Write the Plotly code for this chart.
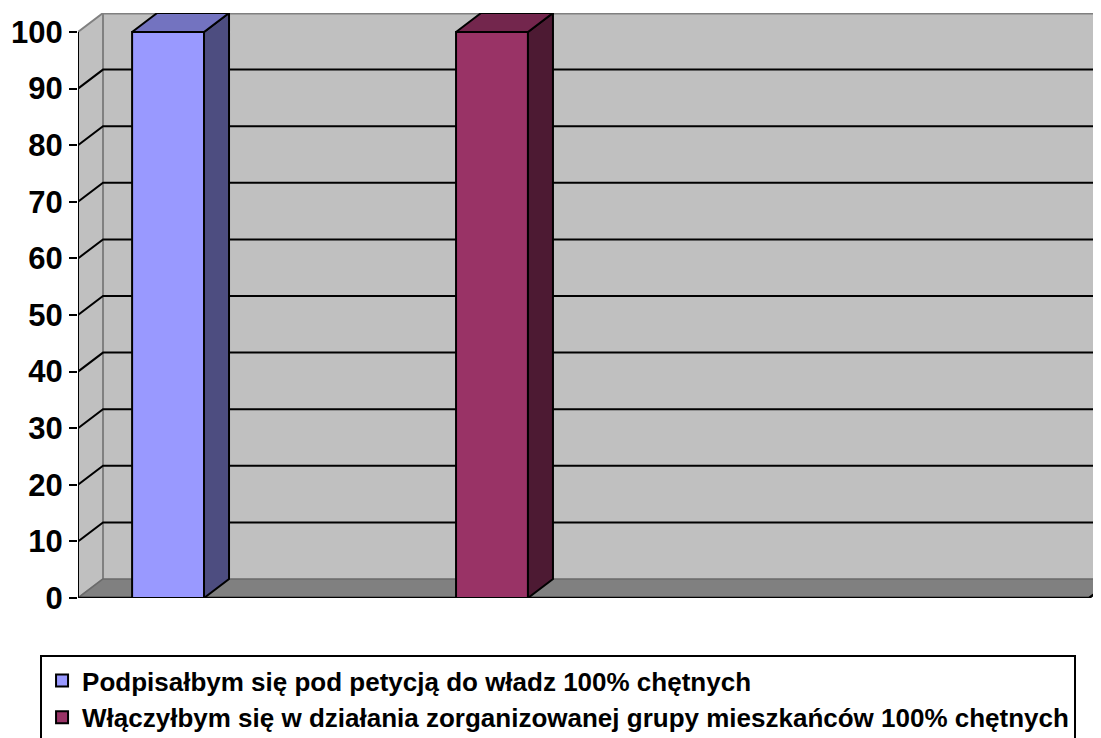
import plotly.graph_objects as go

# ---- data ----
series_names = [
    "Podpisałbym się pod petycją do władz 100% chętnych",
    "Włączyłbym się w działania zorganizowanej grupy mieszkańców 100% chętnych",
]
series_values = [100, 100]
series_positions = [0, 1]
front_colors = ["#9999FF", "#993366"]
side_colors = ["#4D4D80", "#4D1A33"]
top_colors = ["#7373C0", "#73264D"]
y_tick_values = list(range(0, 101, 10))

# ---- geometry (axis units) ----
X_MIN = -0.278
X_MAX = 2.88
FLOOR_END = 2.843
DX = 0.0772   # depth offset along x
DY = 3.357    # depth offset along y
BAR_W = 0.222
Y_TOP = 100
Y_RANGE_MAX = 103.36

fig = go.Figure()

for name, pos, val, fc, sc, tc in zip(series_names, series_positions, series_values,
                                       front_colors, side_colors, top_colors):
    fig.add_trace(go.Bar(
        x=[pos], y=[val], width=[BAR_W], name=name,
        marker=dict(color=fc, line=dict(color="black", width=2)),
        hoverinfo="skip",
    ))
    r = pos + BAR_W / 2
    l = pos - BAR_W / 2
    # side face
    fig.add_trace(go.Scatter(
        x=[r, r + DX, r + DX, r, r], y=[0, DY, val + DY, val, 0],
        mode="lines", fill="toself", fillcolor=sc,
        line=dict(color="black", width=2), showlegend=False, hoverinfo="skip",
    ))
    # top face
    fig.add_trace(go.Scatter(
        x=[l, r, r + DX, l + DX, l], y=[val, val, val + DY, val + DY, val],
        mode="lines", fill="toself", fillcolor=tc,
        line=dict(color="black", width=2), showlegend=False, hoverinfo="skip",
    ))

shapes = []
# back wall
shapes.append(dict(type="rect", xref="x", yref="y", layer="below",
                   x0=X_MIN + DX, x1=X_MAX + 1, y0=DY, y1=Y_TOP + DY,
                   fillcolor="#C0C0C0", line=dict(width=0)))
# back wall top edge
shapes.append(dict(type="line", xref="x", yref="y", layer="below",
                   x0=X_MIN + DX, x1=X_MAX + 1, y0=Y_TOP + DY, y1=Y_TOP + DY,
                   line=dict(color="#808080", width=3)))
# left wall
shapes.append(dict(type="path", xref="x", yref="y", layer="below",
                   path=f"M {X_MIN},0 L {X_MIN},{Y_TOP} L {X_MIN+DX},{Y_TOP+DY} L {X_MIN+DX},{DY} Z",
                   fillcolor="#C0C0C0", line=dict(color="#808080", width=2)))
# floor
shapes.append(dict(type="path", xref="x", yref="y", layer="below",
                   path=f"M {X_MIN},0 L {FLOOR_END},0 L {FLOOR_END+DX},{DY} L {X_MIN+DX},{DY} Z",
                   fillcolor="#808080", line=dict(color="#6A6A6A", width=1.5)))
# gridlines on left and back walls
for v in y_tick_values[1:-1]:
    shapes.append(dict(type="path", xref="x", yref="y", layer="below",
                       path=f"M {X_MIN},{v} L {X_MIN+DX},{v+DY} L {X_MAX+1},{v+DY}",
                       line=dict(color="black", width=2)))
# floor front edge and right edge
shapes.append(dict(type="path", xref="x", yref="y", layer="below",
                   path=f"M {X_MIN},0 L {FLOOR_END},0 L {FLOOR_END+DX},{DY}",
                   line=dict(color="black", width=2.5)))
# value axis line
shapes.append(dict(type="line", xref="x", yref="y", layer="above",
                   x0=X_MIN, x1=X_MIN, y0=0, y1=Y_TOP,
                   line=dict(color="black", width=2)))

fig.update_layout(
    width=1093, height=730,
    margin=dict(l=70, r=0, t=5, b=140, autoexpand=False),
    paper_bgcolor="white", plot_bgcolor="white",
    barmode="overlay",
    shapes=shapes,
    showlegend=True,
    legend=dict(
        x=-0.0371, xanchor="left", y=-0.0974, yanchor="top",
        bordercolor="black", borderwidth=2, bgcolor="white",
        font=dict(family="Liberation Sans, Arial, sans-serif", size=26, color="black", weight="bold"),
        tracegroupgap=0, itemwidth=30,
    ),
    xaxis=dict(range=[X_MIN, X_MAX], showgrid=False, zeroline=False,
               showticklabels=False, showline=False, ticks="", automargin=False),
    yaxis=dict(range=[0, Y_RANGE_MAX], tickvals=y_tick_values,
               showgrid=False, zeroline=False, showline=False, automargin=False,
               ticks="outside", ticklen=8, tickwidth=2, tickcolor="black",
               tickfont=dict(family="Liberation Sans, Arial, sans-serif", size=31,
                             color="black", weight="bold")),
)

fig.write_html("out.html")
